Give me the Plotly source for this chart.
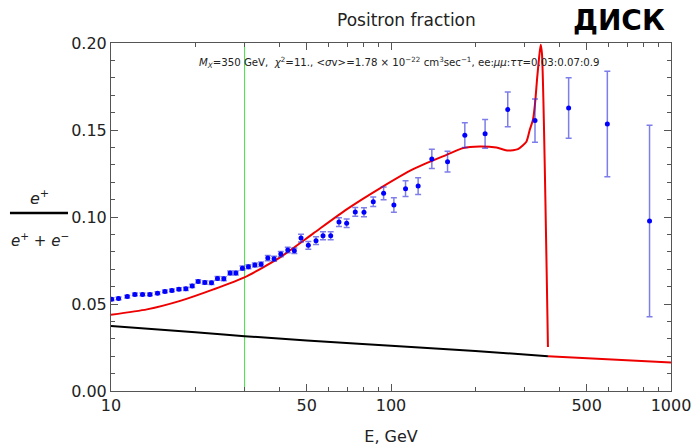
import plotly.graph_objects as go

# ---- data ----
data_E = [10.05, 10.64, 11.43, 12.17, 12.96, 13.77, 14.66, 15.58, 16.50, 17.48,
          18.51, 19.50, 20.48, 21.63, 22.85, 24.00, 25.29, 26.64, 27.92, 29.47,
          30.96, 32.64, 34.36, 36.31, 38.23, 40.40, 42.79, 45.16, 47.71, 50.67,
          53.98, 57.17, 60.90, 65.19, 69.44, 74.53, 80.07, 86.42, 94.10, 102.4,
          112.7, 125.0, 139.9, 159.2, 183.5, 216.8, 261.2, 326.8, 431.0, 592.4,
          838.2]
data_frac = [0.0528, 0.0532, 0.0543, 0.0555, 0.0555, 0.0555, 0.0562, 0.0572, 0.0578, 0.0585,
             0.0587, 0.0604, 0.0630, 0.0624, 0.0622, 0.0647, 0.0645, 0.0678, 0.0678, 0.0706,
             0.0714, 0.0724, 0.0729, 0.0764, 0.0760, 0.0787, 0.0810, 0.0806, 0.0879, 0.0837,
             0.0864, 0.0892, 0.0892, 0.0971, 0.0964, 0.1029, 0.1027, 0.1088, 0.1136, 0.1069,
             0.1163, 0.1178, 0.1334, 0.1318, 0.1470, 0.1478, 0.1618, 0.1554, 0.1626, 0.1535,
             0.0977]
data_err = [0.0008, 0.0008, 0.0008, 0.0008, 0.0008, 0.0008, 0.0008, 0.0008, 0.0008, 0.0008,
            0.0009, 0.0009, 0.0010, 0.0010, 0.0010, 0.0011, 0.0011, 0.0011, 0.0011, 0.0012,
            0.0012, 0.0012, 0.0013, 0.0015, 0.0015, 0.0015, 0.0016, 0.0016, 0.0022, 0.0022,
            0.0022, 0.0023, 0.0023, 0.0025, 0.0025, 0.0025, 0.0026, 0.0027, 0.0037, 0.0041,
            0.0045, 0.0048, 0.0055, 0.0060, 0.0071, 0.0083, 0.0100, 0.0124, 0.0174, 0.0303,
            0.0550]

model_E = [10.0, 13.44, 17.66, 23.22, 29.96, 40.17, 52.79, 69.44, 91.29, 120.0,
           157.9, 180.9, 207.5, 238.0, 261.8, 284.1, 304.5, 313.0, 321.5, 327.3,
           332.7, 338.2, 342.4, 346.0, 363.5]
model_frac = [0.0438, 0.0469, 0.0518, 0.0584, 0.0653, 0.0768, 0.0906, 0.1044, 0.1165, 0.1275,
              0.1357, 0.1396, 0.1405, 0.1399, 0.1382, 0.1390, 0.1433, 0.1501, 0.1560, 0.1660,
              0.1800, 0.1920, 0.1990, 0.1940, 0.0253]

tail_E = [363.5, 450.0, 603.5, 800.0, 1000.0]
tail_frac = [0.0200, 0.0192, 0.0181, 0.0172, 0.0164]

bg_E = [10.0, 20.0, 30.0, 50.0, 100.0, 200.0, 363.5]
bg_frac = [0.0374, 0.0338, 0.0315, 0.0290, 0.0260, 0.0230, 0.0200]

cut_E = 30.0

x_tickvals = [10, 50, 100, 500, 1000]
x_ticktext = ["10", "50", "100", "500", "1000"]
x_minor = [20, 30, 40, 60, 70, 80, 90, 200, 300, 400, 600, 700, 800, 900]
y_tickvals = [0.00, 0.05, 0.10, 0.15, 0.20]
y_ticktext = ["0.00", "0.05", "0.10", "0.15", "0.20"]

FONT = "DejaVu Sans, Liberation Sans, sans-serif"

fig = go.Figure()

fig.add_trace(go.Scatter(x=[cut_E, cut_E], y=[0, 0.2], mode="lines",
                         line=dict(color="#44e044", width=1), showlegend=False))
fig.add_trace(go.Scatter(x=bg_E, y=bg_frac, mode="lines", line=dict(color="black", width=2, shape="spline"),
                         showlegend=False))
fig.add_trace(go.Scatter(x=tail_E, y=tail_frac, mode="lines", line=dict(color="#ee0000", width=2),
                         showlegend=False))
fig.add_trace(go.Scatter(x=model_E, y=model_frac, mode="lines",
                         line=dict(color="#ee0000", width=2, shape="spline", smoothing=0.6),
                         showlegend=False))
fig.add_trace(go.Scatter(x=data_E, y=data_frac, mode="markers",
                         marker=dict(color="#0000ff", size=5),
                         error_y=dict(type="data", array=data_err, color="rgba(40,40,220,0.6)",
                                      thickness=1.5, width=3),
                         showlegend=False))

axis_common = dict(showline=True, linecolor="#555555", linewidth=1, mirror="allticks",
                   ticks="inside", tickcolor="#555555", showgrid=False, zeroline=False,
                   automargin=False,
                   tickfont=dict(family=FONT, size=16, color="#222222"))

fig.update_xaxes(type="log", range=[1, 3], tickmode="array", tickvals=x_tickvals,
                 ticktext=x_ticktext, ticklen=7,
                 minor=dict(tickmode="array", tickvals=x_minor, ticks="inside", ticklen=4,
                            tickcolor="#555555", showgrid=False),
                 title=dict(text="E, GeV", font=dict(family=FONT, size=16, color="#222222"), standoff=16),
                 **axis_common)
fig.update_yaxes(range=[0, 0.2], tickmode="array", tickvals=y_tickvals, ticktext=y_ticktext,
                 ticklen=7,
                 minor=dict(dtick=0.01, ticks="inside", ticklen=4, tickcolor="#555555", showgrid=False),
                 **axis_common)

annotations = [
    dict(text="Positron fraction", x=0.527, y=1.066, xref="paper", yref="paper",
         xanchor="center", yanchor="middle",
         showarrow=False, font=dict(family=FONT, size=17, color="#222222")),
    dict(text="<b>ДИСК</b>", x=0.908, y=1.066, xref="paper", yref="paper",
         xanchor="center", yanchor="middle",
         showarrow=False, font=dict(family=FONT, size=28, color="black")),
    dict(text="<i>M</i><sub><i>X</i></sub>=350 GeV,  <i>χ</i><sup>2</sup>=11., &lt;<i>σ</i>v&gt;=1.78 × 10<sup>−22</sup> cm<sup>3</sup>sec<sup>−1</sup>, ee:<i>μμ</i>:<i>ττ</i>=0.03:0.07:0.9",
         x=0.1536, y=0.9454, xref="paper", yref="paper", xanchor="left", yanchor="middle",
         showarrow=False, font=dict(family=FONT, size=10.2, color="#222222")),
    dict(text="<i>e</i><sup>+</sup>", x=-0.1268, y=0.5546, xref="paper", yref="paper",
         xanchor="center", yanchor="middle",
         showarrow=False, font=dict(family=FONT, size=16, color="#222222")),
    dict(text="<i>e</i><sup>+</sup> + <i>e</i><sup>−</sup>", x=-0.1268, y=0.4339, xref="paper", yref="paper",
         xanchor="center", yanchor="middle",
         showarrow=False, font=dict(family=FONT, size=15, color="#222222")),
]

fig.update_layout(
    width=693, height=447,
    margin=dict(l=111, r=22, t=43, b=56),
    plot_bgcolor="white", paper_bgcolor="white",
    annotations=annotations,
    shapes=[dict(type="line", xref="paper", yref="paper", x0=-0.1804, x1=-0.0768,
                 y0=0.5115, y1=0.5115, line=dict(color="black", width=2.5))],
)

fig.write_html("out.html", config={"displayModeBar": False},
               post_script="document.body.style.margin='0px';")
